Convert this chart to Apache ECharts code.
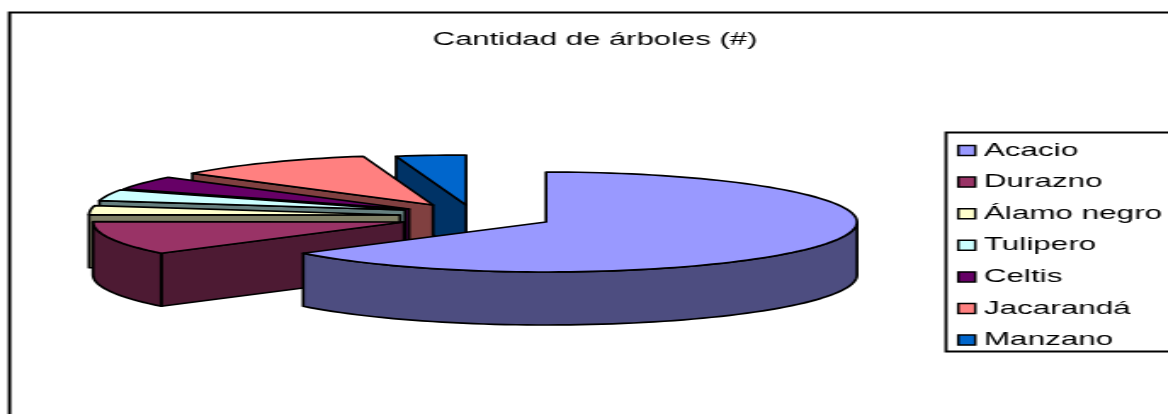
<!DOCTYPE html>
<html>
<head>
<meta charset="utf-8">
<title>Cantidad de árboles</title>
<style>
    html, body { margin: 0; background: #fff; overflow: hidden; }
    /* la imagen original está estirada a lo ancho, por eso el scaleX */
    #chart { width: 688px; height: 414px; transform: scaleX(1.7); transform-origin: 0 0; }
</style>
<script src="https://cdn.jsdelivr.net/npm/echarts@6/dist/echarts.min.js"></script>
</head>
<body>
<div id="chart"></div>
<script>
'use strict';

var chartTitle = 'Cantidad de árboles (#)';
var categories = ['Acacio', 'Durazno', 'Álamo negro', 'Tulipero', 'Celtis', 'Jacarandá', 'Manzano'];
var treeCounts = [178, 30, 8, 10, 12, 29, 10];

var topColors = ['#9999ff', '#993366', '#ffffcc', '#ccffff', '#660066', '#ff8080', '#0066cc'];
var wallColors = ['#4d4d80', '#4d1a33', '#808066', '#668080', '#4a004a', '#804040', '#003366'];

// desplazamiento de cada porción (px de la imagen final)
var explodeX = [0, -142, -146, -141, -137, -113, -80];
var explodeY = [0, 0, -7, -12, -13, -17, -17];

var stretch = 1.7;
var pieX = 546, pieY = 222, radiusX = 311, radiusY = 50, depth = 53;
var lineW = 1.7;

var total = treeCounts.reduce(function(a, b) { return a + b; }, 0);

function startAngle(index) {
    var sum = 0;
    for (var i = 0; i < index; i++) {
        sum += treeCounts[i];
    }
    return sum / total * 360;
}

// ángulo en grados, horario desde arriba
function rimPoint(cx, cy, deg, dy) {
    var a = deg * Math.PI / 180;
    return [(cx + Math.sin(a) * radiusX) / stretch, cy + dy - Math.cos(a) * radiusY];
}

function arcPoints(cx, cy, from, to, dy) {
    var pts = [];
    var steps = Math.max(2, Math.ceil((to - from) / 2));
    for (var i = 0; i <= steps; i++) {
        pts.push(rimPoint(cx, cy, from + (to - from) * i / steps, dy));
    }
    return pts;
}

function face(points, color) {
    return {
        type: 'polygon',
        shape: { points: points },
        style: { fill: color, stroke: '#000', lineWidth: lineW, lineJoin: 'round' }
    };
}

function cutWall(cx, cy, deg, color) {
    var apex = [cx / stretch, cy];
    var outer = rimPoint(cx, cy, deg, 0);
    return face([apex, outer, [outer[0], outer[1] + depth], [apex[0], apex[1] + depth]], color);
}

function renderSlice(index) {
    return function(params, api) {
        var from = startAngle(index);
        var to = from + api.value(0) / total * 360;
        var cx = pieX + explodeX[index];
        var cy = pieY + explodeY[index];
        var children = [];

        // caras de corte que miran al frente
        if (Math.sin(from * Math.PI / 180) < -0.001) {
            children.push(cutWall(cx, cy, from, wallColors[index]));
        }
        if (Math.sin(to * Math.PI / 180) > 0.001) {
            children.push(cutWall(cx, cy, to, wallColors[index]));
        }

        // borde exterior visible
        var rimFrom = Math.max(from, 90);
        var rimTo = Math.min(to, 270);
        if (rimTo > rimFrom) {
            var upper = arcPoints(cx, cy, rimFrom, rimTo, 0);
            var lower = arcPoints(cx, cy, rimFrom, rimTo, depth).reverse();
            children.push(face(upper.concat(lower), wallColors[index]));
        }

        // cara superior
        children.push(face([[cx / stretch, cy]].concat(arcPoints(cx, cy, from, to, 0)), topColors[index]));

        return { type: 'group', children: children };
    };
}

// se dibuja de atrás hacia adelante, la leyenda va en el orden original
var drawOrder = [6, 5, 4, 3, 2, 1, 0];

var myPie = echarts.init(document.getElementById('chart'));

var option = {
    animation: false,
    backgroundColor: '#fff',
    title: {
        text: chartTitle,
        left: 595 / stretch - 5,
        top: 26,
        textAlign: 'center',
        textStyle: { fontFamily: 'Liberation Sans', fontSize: 18.3, fontWeight: 'normal', color: '#000' }
    },
    legend: {
        data: categories,
        orient: 'vertical',
        left: 957 / stretch,
        top: 140,
        padding: 0,
        itemWidth: 10,
        itemHeight: 10,
        itemGap: 10.6,
        icon: 'rect',
        selectedMode: false,
        itemStyle: { borderColor: '#000', borderWidth: 1.5 },
        textStyle: { fontFamily: 'Liberation Sans', fontSize: 18.5, color: '#000', lineHeight: 21, padding: [0, 0, 0, 0] }
    },
    graphic: [{
        type: 'rect',
        z: 0,
        shape: { x: 9.5 / stretch, y: 12.5, width: 720, height: 420 },
        style: { fill: '#fff', stroke: '#000', lineWidth: 2 }
    }, {
        type: 'rect',
        z: 1,
        shape: { x: 946 / stretch, y: 132.5, width: 160, height: 219 },
        style: { fill: '#fff', stroke: '#000', lineWidth: 1.8 }
    }],
    series: drawOrder.map(function(i) {
        return {
            type: 'custom',
            name: categories[i],
            coordinateSystem: 'none',
            z: 2,
            silent: true,
            itemStyle: { color: topColors[i] },
            data: [[treeCounts[i]]],
            renderItem: renderSlice(i)
        };
    })
};

myPie.setOption(option);
</script>
</body>
</html>
